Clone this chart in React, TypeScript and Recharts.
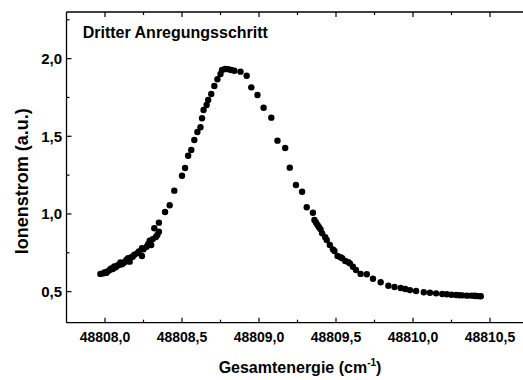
import { Scatter, ScatterChart, XAxis, YAxis } from "recharts";

// Photon energy sum (cm^-1) and ion signal (a.u.)
const energy = [
  48807.97, 48807.99, 48808.0, 48808.01, 48808.02, 48808.03, 48808.04, 48808.05, 48808.06,
  48808.07, 48808.08, 48808.09, 48808.1, 48808.11, 48808.12, 48808.13, 48808.14, 48808.15,
  48808.16, 48808.17, 48808.18, 48808.19, 48808.21, 48808.22, 48808.24, 48808.24, 48808.25,
  48808.27, 48808.28, 48808.29, 48808.3, 48808.31, 48808.32, 48808.33, 48808.34, 48808.35,
  48808.35, 48808.39, 48808.42, 48808.45, 48808.5, 48808.52, 48808.54, 48808.56, 48808.58,
  48808.6, 48808.62, 48808.63, 48808.64, 48808.66, 48808.67, 48808.69, 48808.71, 48808.73,
  48808.75, 48808.76, 48808.78, 48808.8, 48808.82, 48808.84, 48808.88, 48808.92, 48808.95,
  48808.99, 48809.03, 48809.08, 48809.12, 48809.17, 48809.2, 48809.24, 48809.28, 48809.31,
  48809.35, 48809.36, 48809.37, 48809.38, 48809.39, 48809.4, 48809.41, 48809.43, 48809.44,
  48809.46, 48809.48, 48809.49, 48809.51, 48809.53, 48809.54, 48809.56, 48809.58, 48809.59,
  48809.61, 48809.63, 48809.66, 48809.7, 48809.74, 48809.79, 48809.84, 48809.88, 48809.92,
  48809.95, 48809.98, 48810.02, 48810.07, 48810.11, 48810.15, 48810.19, 48810.22, 48810.25,
  48810.28, 48810.3, 48810.32, 48810.35, 48810.38, 48810.4, 48810.41, 48810.43, 48810.44,
];
const current = [
  0.614, 0.618, 0.625, 0.622, 0.632, 0.639, 0.65, 0.645, 0.662,
  0.657, 0.668, 0.671, 0.688, 0.676, 0.684, 0.693, 0.706, 0.715,
  0.693, 0.722, 0.725, 0.738, 0.747, 0.758, 0.779, 0.729, 0.772,
  0.789, 0.806, 0.828, 0.8, 0.838, 0.908, 0.852, 0.865, 0.886,
  0.944, 1.013, 1.056, 1.15, 1.246, 1.296, 1.375, 1.412, 1.476,
  1.528, 1.558, 1.616, 1.669, 1.701, 1.734, 1.772, 1.824, 1.867,
  1.901, 1.927, 1.933, 1.931, 1.927, 1.922, 1.916, 1.89, 1.815,
  1.766, 1.684, 1.62, 1.472, 1.425, 1.298, 1.186, 1.143, 1.043,
  1.008, 0.961, 0.945, 0.929, 0.915, 0.901, 0.875, 0.85, 0.832,
  0.8, 0.772, 0.762, 0.729, 0.722, 0.715, 0.697, 0.69, 0.682,
  0.66, 0.639, 0.614, 0.612, 0.583, 0.56, 0.538, 0.53, 0.523,
  0.517, 0.51, 0.504, 0.496, 0.493, 0.489, 0.485, 0.483, 0.48,
  0.478, 0.477, 0.476, 0.474, 0.474, 0.473, 0.472, 0.471, 0.47,
];

const xMajorTicks = [48808, 48808.5, 48809, 48809.5, 48810, 48810.5];
const xMinorTicks = [48808.25, 48808.75, 48809.25, 48809.75, 48810.25];
const yMajorTicks = [0.5, 1.0, 1.5, 2.0];
const yMinorTicks = [0.75, 1.25, 1.75, 2.25];

const title = "Dritter Anregungsschritt";
const xTitle = "Gesamtenergie (cm";
const yTitle = "Ionenstrom (a.u.)";

const points = energy.map((e, i) => ({ e, i: current[i] }));
const xTicks = [...xMajorTicks, ...xMinorTicks].sort((a, b) => a - b);
const yTicks = [...yMajorTicks, ...yMinorTicks].sort((a, b) => a - b);

// frame layout; the right edge of the frame sits just past the visible width
const W = 523;
const H = 380;
const TOP = 12;
const LEFT = 66.5;
const RIGHT = 528.5;
const BOTTOM = 322.7;

const FONT = '"Liberation Sans", Arial, sans-serif';
const comma = (v: number) => v.toFixed(1).replace(".", ",");
const isMajor = (v: number) => Math.abs(v * 2 - Math.round(v * 2)) < 1e-6;

// bottom tick also draws the matching inward tick on the top frame
function BottomTick({ x, payload }: any) {
  const major = isMajor(payload.value);
  const len = major ? 5 : 3;
  return (
    <g>
      <line x1={x} x2={x} y1={BOTTOM} y2={BOTTOM - len} stroke="#000" strokeWidth={1.2} />
      <line x1={x} x2={x} y1={TOP} y2={TOP + len} stroke="#000" strokeWidth={1.2} />
      {major ? (
        <text x={x} y={BOTTOM + 19} textAnchor="middle" fontSize={14} fontWeight="bold" fontFamily={FONT} fill="#000">
          {comma(payload.value)}
        </text>
      ) : null}
    </g>
  );
}

function LeftTick({ y, payload }: any) {
  const major = isMajor(payload.value);
  return (
    <g>
      <line x1={LEFT} x2={LEFT + (major ? 5 : 3)} y1={y} y2={y} stroke="#000" strokeWidth={1.2} />
      {major ? (
        <text x={LEFT - 4.5} y={y + 5.3} textAnchor="end" fontSize={15} fontWeight="bold" fontFamily={FONT} fill="#000">
          {comma(payload.value)}
        </text>
      ) : null}
    </g>
  );
}

function XTitle() {
  const cx = (LEFT + RIGHT) / 2 + 2.5;
  return (
    <text x={cx} y={BOTTOM + 50.6} textAnchor="middle" fontSize={16} fontWeight="bold" fontFamily={FONT} fill="#000">
      <tspan>{xTitle}</tspan>
      <tspan dy={-7} fontSize={10}>-1</tspan>
      <tspan dy={7}>)</tspan>
    </text>
  );
}

function YTitle() {
  const cx = 28;
  const cy = (TOP + BOTTOM) / 2 + 14;
  return (
    <text
      x={cx}
      y={cy}
      transform={`rotate(-90, ${cx}, ${cy})`}
      textAnchor="middle"
      fontSize={18}
      fontWeight="bold"
      fontFamily={FONT}
      fill="#000"
    >
      {yTitle}
    </text>
  );
}

function ChartTitle() {
  return (
    <text x={LEFT + 16.2} y={TOP + 25.7} fontSize={16} fontWeight="bold" fontFamily={FONT} fill="#000">
      {title}
    </text>
  );
}

const Dot = ({ cx, cy }: any) => <circle cx={cx} cy={cy} r={3.2} fill="#000" />;

export default function App() {
  return (
    <div style={{ position: "fixed", left: 0, top: 0, width: W, height: H, overflow: "hidden", background: "#fff" }}>
      <ScatterChart width={W} height={H} margin={{ top: TOP - 1, right: W - RIGHT, bottom: 0, left: 0 }}>
        <XAxis
          dataKey="e"
          type="number"
          domain={[48807.75, 48810.75]}
          ticks={xTicks}
          interval={0}
          allowDataOverflow
          height={H - BOTTOM}
          tickLine={false}
          tick={<BottomTick />}
          axisLine={{ stroke: "#000", strokeWidth: 1.3 }}
          label={{ content: <XTitle /> }}
        />
        <XAxis
          xAxisId="top"
          orientation="top"
          type="number"
          domain={[48807.75, 48810.75]}
          allowDataOverflow
          height={1}
          tick={false}
          tickLine={false}
          axisLine={{ stroke: "#000", strokeWidth: 1.3 }}
          label={{ content: <ChartTitle /> }}
        />
        <YAxis
          dataKey="i"
          type="number"
          domain={[0.3, 2.3]}
          ticks={yTicks}
          interval={0}
          allowDataOverflow
          width={LEFT}
          tickLine={false}
          tick={<LeftTick />}
          axisLine={{ stroke: "#000", strokeWidth: 1.3 }}
          label={{ content: <YTitle /> }}
        />
        <Scatter data={points} shape={<Dot />} isAnimationActive={false} />
      </ScatterChart>
    </div>
  );
}
